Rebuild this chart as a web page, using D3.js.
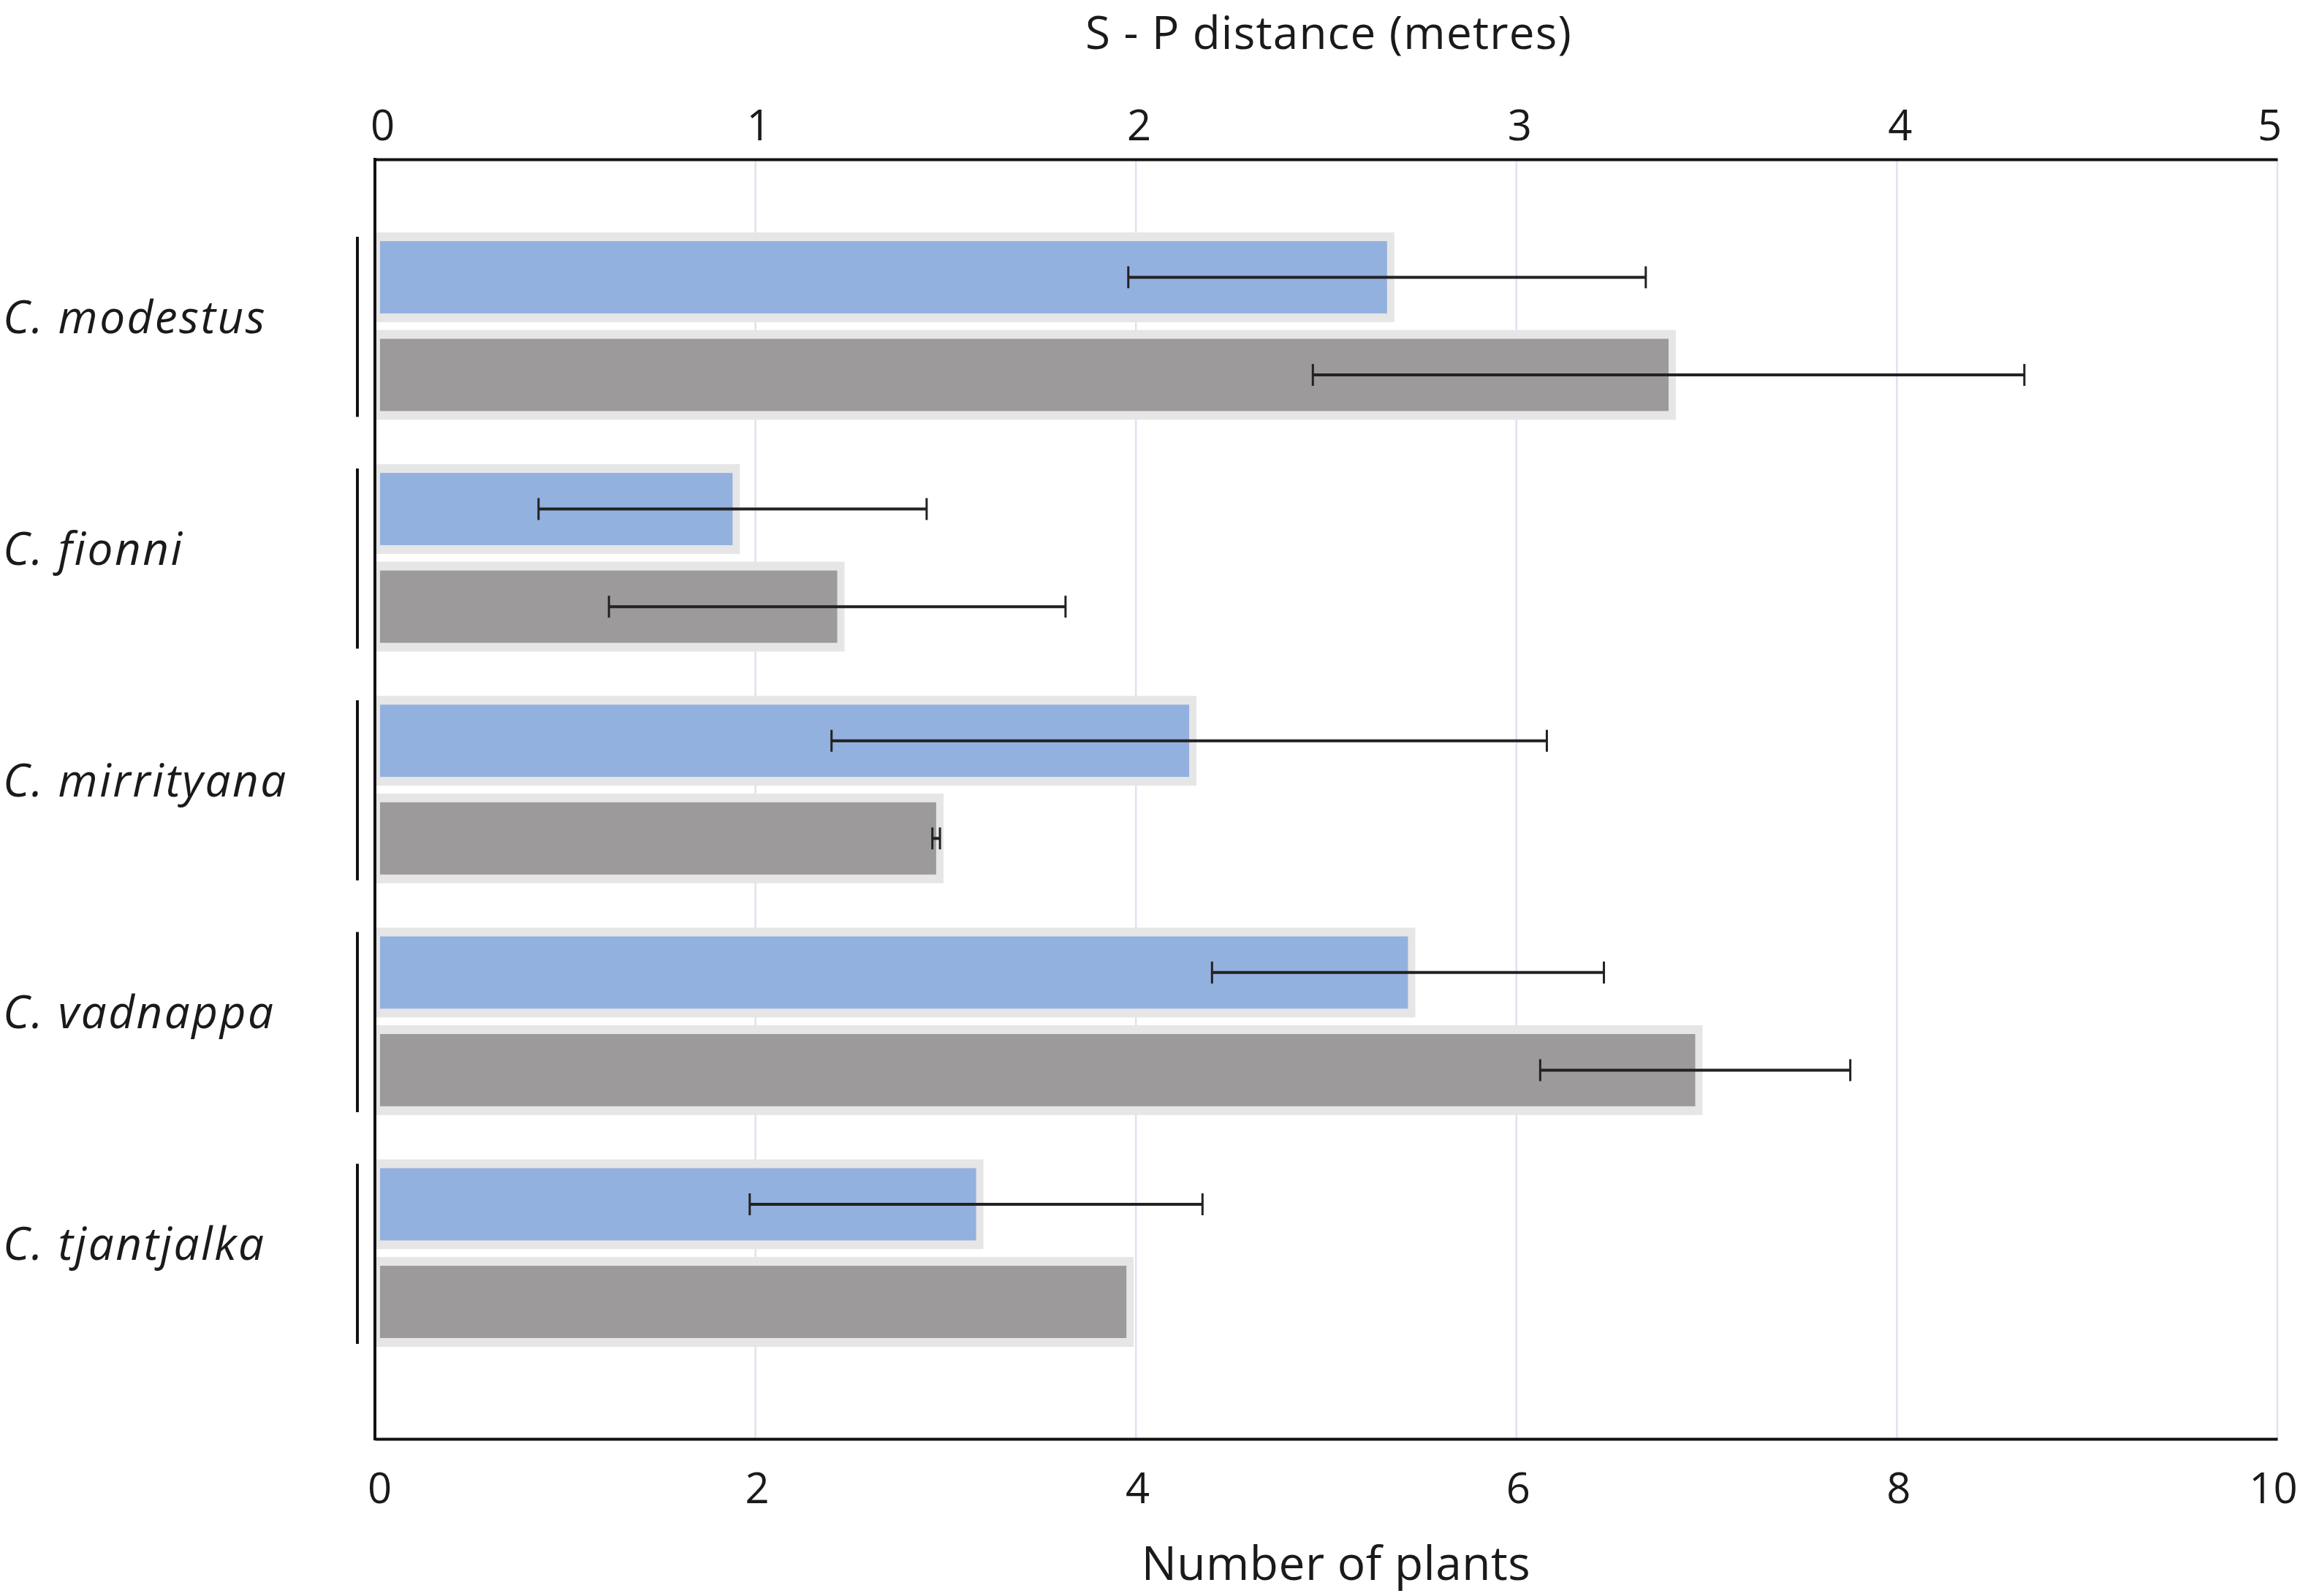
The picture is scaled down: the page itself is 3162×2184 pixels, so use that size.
<!DOCTYPE html>
<html lang="en">

<head>
    <meta charset="UTF-8">
    <title>S - P distance and number of plants</title>
    <script src="https://d3js.org/d3.v7.min.js"></script>
    <style>
        body { margin: 0; background: #fff; }
        text { font-family: "Open Sans", Lato, sans-serif; fill: #1a1a1a; }
    </style>
</head>

<body>
    <script>
        // dados
        var species = ["C. modestus", "C. fionni", "C. mirrityana", "C. vadnappa", "C. tjantjalka"];
        var distance = [2.66, 0.94, 2.14, 2.715, 1.58];        // metres (eixo de cima)
        var distanceErr = [0.68, 0.51, 0.94, 0.515, 0.595];
        var plants = [6.8, 2.43, 2.95, 6.94, 3.95];            // numero de plantas (eixo de baixo)
        var plantsErr = [1.87, 1.2, 0.02, 0.815, 0];
        var topTicks = [0, 1, 2, 3, 4, 5];
        var bottomTicks = [0, 2, 4, 6, 8, 10];

        var width = 3162;
        var height = 2184;
        var plotLeft = 513, plotRight = 3116, plotTop = 218, plotBottom = 1969;

        var svg = d3.select("body")
            .append("svg")
            .attr("width", width)
            .attr("height", height);

        var xTop = d3.scaleLinear().domain([0, 5]).range([plotLeft, plotRight]);
        var xBottom = d3.scaleLinear().domain([0, 10]).range([plotLeft, plotRight]);

        var y = d3.scaleBand()
            .domain(species)
            .range([330, 1831])
            .paddingInner(0.267)
            .paddingOuter(0);

        var ySub = d3.scaleBand()
            .domain(["distance", "plants"])
            .range([0, y.bandwidth()])
            .paddingInner(0.26);

        // linhas de grade
        svg.selectAll(".grid")
            .data(bottomTicks.slice(1))
            .enter().append("line")
            .attr("x1", function (d) { return xBottom(d); })
            .attr("x2", function (d) { return xBottom(d); })
            .attr("y1", plotTop)
            .attr("y2", plotBottom)
            .attr("stroke", "#dde3ed")
            .attr("stroke-width", 2.5);

        // montar as linhas de barras
        var rows = species.map(function (s, i) {
            return [
                { sp: s, key: "distance", x: xTop(distance[i]), lo: xTop(distance[i] - distanceErr[i]), hi: xTop(distance[i] + distanceErr[i]), err: distanceErr[i], fill: "#93b1df" },
                { sp: s, key: "plants", x: xBottom(plants[i]), lo: xBottom(plants[i] - plantsErr[i]), hi: xBottom(plants[i] + plantsErr[i]), err: plantsErr[i], fill: "#9d9a9b" }
            ];
        }).flat();

        function barY(d) { return y(d.sp) + ySub(d.key); }

        // contorno claro das barras
        svg.selectAll(".glow")
            .data(rows)
            .enter().append("rect")
            .attr("x", plotLeft)
            .attr("y", function (d) { return barY(d) - 12; })
            .attr("width", function (d) { return d.x - plotLeft + 10; })
            .attr("height", ySub.bandwidth() + 24)
            .attr("fill", "#e6e6e6");

        svg.selectAll(".bar")
            .data(rows)
            .enter().append("rect")
            .attr("x", plotLeft + 7)
            .attr("y", barY)
            .attr("width", function (d) { return d.x - plotLeft - 7; })
            .attr("height", ySub.bandwidth())
            .attr("fill", function (d) { return d.fill; });

        // barras de erro
        var errs = rows.filter(function (d) { return d.err > 0; });
        var eg = svg.selectAll(".err")
            .data(errs)
            .enter().append("g")
            .attr("stroke", "#222")
            .attr("stroke-width", 4);

        eg.append("line")
            .attr("x1", function (d) { return d.lo; })
            .attr("x2", function (d) { return d.hi; })
            .attr("y1", function (d) { return barY(d) + ySub.bandwidth() / 2; })
            .attr("y2", function (d) { return barY(d) + ySub.bandwidth() / 2; });

        eg.selectAll(".cap")
            .data(function (d) { return [d.lo, d.hi].map(function (v) { return { v: v, yc: barY(d) + ySub.bandwidth() / 2 }; }); })
            .enter().append("line")
            .attr("x1", function (c) { return c.v; })
            .attr("x2", function (c) { return c.v; })
            .attr("y1", function (c) { return c.yc - 15; })
            .attr("y2", function (c) { return c.yc + 15; })
            .attr("stroke-width", 3);

        // colchetes dos grupos
        svg.selectAll(".bracket")
            .data(species)
            .enter().append("line")
            .attr("x1", 489)
            .attr("x2", 489)
            .attr("y1", function (d) { return y(d) - 6; })
            .attr("y2", function (d) { return y(d) + y.bandwidth() + 8; })
            .attr("stroke", "#111")
            .attr("stroke-width", 4);

        // nomes das especies
        svg.selectAll(".label")
            .data(species)
            .enter().append("text")
            .attr("x", 4)
            .attr("y", function (d) { return y(d) + y.bandwidth() / 2 - 12; })
            .attr("dy", "0.35em")
            .attr("font-size", "62px")
            .attr("letter-spacing", "2.5px")
            .attr("font-style", "italic")
            .text(function (d) { return d; });

        // eixos
        var axTop = svg.append("g")
            .attr("transform", "translate(0," + plotTop + ")")
            .call(d3.axisTop(xTop).tickValues(topTicks).tickFormat(d3.format("d")).tickSize(0).tickPadding(26));

        var axBottom = svg.append("g")
            .attr("transform", "translate(0," + plotBottom + ")")
            .call(d3.axisBottom(xBottom).tickValues(bottomTicks).tickFormat(d3.format("d")).tickSize(0).tickPadding(47));

        [axTop, axBottom].forEach(function (ax) {
            ax.select(".domain").attr("stroke", "#111").attr("stroke-width", 4);
            ax.selectAll("text").attr("font-size", "58px").attr("font-family", "'Open Sans', sans-serif").attr("fill", "#1a1a1a");
        });

        // rotulos das pontas um pouco para dentro, como no original
        axTop.selectAll(".tick text").attr("dx", function (d) { return d === 0 ? 10 : (d === 5 ? -11 : 4); });
        axBottom.selectAll(".tick text").attr("dx", function (d) { return d === 0 ? 6 : (d === 10 ? -6 : 2); });

        svg.append("line")
            .attr("x1", plotLeft)
            .attr("x2", plotLeft)
            .attr("y1", plotTop - 2)
            .attr("y2", plotBottom + 2)
            .attr("stroke", "#111")
            .attr("stroke-width", 4);

        // titulos dos eixos
        svg.append("text")
            .attr("x", 1818)
            .attr("y", 67)
            .attr("text-anchor", "middle")
            .attr("font-size", "62px")
            .attr("letter-spacing", "1.2px")
            .text("S - P distance (metres)");

        svg.append("text")
            .attr("x", 1828)
            .attr("y", 2162)
            .attr("text-anchor", "middle")
            .attr("font-size", "64px")
            .attr("letter-spacing", "0.5px")
            .text("Number of plants");
    </script>
</body>

</html>
